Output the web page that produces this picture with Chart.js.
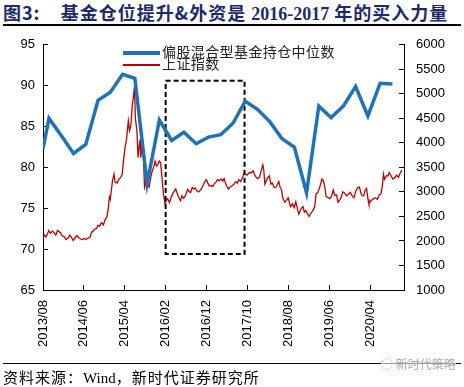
<!DOCTYPE html>
<html>
<head>
<meta charset="UTF-8">
<title>基金仓位提升&外资是2016-2017年的买入力量</title>
<script src="https://cdn.jsdelivr.net/npm/chart.js@4/dist/chart.umd.min.js"></script>
<style>
body { margin: 0; width: 464px; height: 387px; background: #fff; position: relative; overflow: hidden; }
.title { position: absolute; left: 3px; top: 0; font-family: "Noto Sans CJK SC"; font-weight: bold; font-size: 18px; letter-spacing: 1px; color: #1c2a6b; white-space: nowrap; line-height: 24px; }
.title .num { font-family: "Liberation Serif"; letter-spacing: 0; }
.rule1 { position: absolute; left: 3px; width: 458px; top: 24px; height: 2px; background: #000; }
.rule2 { position: absolute; left: 3px; width: 458px; top: 363px; height: 1px; background: #000; }
.source { position: absolute; left: 3px; top: 367px; font-family: "Noto Sans CJK SC"; font-size: 15px; letter-spacing: 1px; line-height: 20px; color: #000; white-space: nowrap; }
.source .en { font-family: "Liberation Serif"; letter-spacing: 0; }
.mark { position: absolute; left: 381px; top: 355px; font-family: "Noto Sans CJK SC"; font-size: 12px; color: #aaa; background: rgba(255,255,255,0.6); }
#legend { position: absolute; left: 123px; top: 45px; font-family: "Noto Sans CJK SC"; font-size: 14px; letter-spacing: 0.4px; color: #222; }
#legend div { height: 12px; line-height: 12px; white-space: nowrap; }
#legend span.sw { display: inline-block; width: 37px; vertical-align: middle; margin-right: 2px; }
#wrap { position: absolute; left: 0; top: 20px; }
</style>
</head>
<body>
<div class="title">图3:&nbsp;&nbsp;&nbsp;&nbsp;基金仓位提升&amp;外资是 <span class="num">2016-2017</span> 年的买入力量</div>
<div class="rule1"></div>
<div id="wrap"><canvas id="myChart" width="464" height="340"></canvas></div>
<div id="legend">
  <div><span class="sw" style="height:4px;background:#1f71b8"></span>偏股混合型基金持仓中位数</div>
  <div><span class="sw" style="height:2px;background:#c00000"></span>上证指数</div>
</div>
<div class="rule2"></div>
<div class="mark">◌ 新时代策略</div>
<div class="source">资料来源：<span class="en">Wind</span>，新时代证券研究所</div>
<script>
// 偏股混合型基金持仓中位数 (left axis, %)
var fundDates = ["2013-08-01","2013-09-15","2013-12-15","2014-03-15","2014-06-15","2014-09-15","2014-12-15",
  "2015-03-15","2015-06-15","2015-09-15","2015-12-15","2016-03-15","2016-06-15","2016-09-15","2016-12-15",
  "2017-03-15","2017-06-15","2017-09-15","2017-12-15","2018-03-15","2018-06-15","2018-09-15","2018-12-15",
  "2019-03-15","2019-06-15","2019-09-15","2019-12-15","2020-03-15","2020-06-15","2020-09-15"];
var fundValues = [82.3,86.0,83.9,81.7,82.8,88.2,89.2,
  91.4,90.9,78.0,85.8,83.3,84.3,82.9,83.7,
  84.0,85.4,88.1,87.1,85.6,83.5,82.5,76.9,
  87.5,86.1,87.5,89.9,86.3,90.3,90.2];

// 上证指数 (right axis)
var sseDates = ["2013-08-01","2013-08-12","2013-08-23","2013-09-05","2013-09-13","2013-09-25","2013-10-10","2013-10-22",
  "2013-11-05","2013-11-18","2013-11-28","2013-12-10","2013-12-20","2014-01-08","2014-01-20","2014-02-05","2014-02-18",
  "2014-03-03","2014-03-12","2014-03-25","2014-04-10","2014-04-22","2014-05-08","2014-05-20","2014-06-05","2014-06-18",
  "2014-07-01","2014-07-15","2014-07-28","2014-08-08","2014-08-20","2014-09-03","2014-09-15","2014-09-25","2014-10-10",
  "2014-10-25","2014-11-05","2014-11-20","2014-12-01","2014-12-08","2014-12-15","2014-12-31","2015-01-12","2015-01-20",
  "2015-02-05","2015-02-16","2015-03-02","2015-03-12","2015-03-24","2015-04-03","2015-04-15","2015-04-27","2015-05-06",
  "2015-05-15","2015-05-27","2015-06-03","2015-06-12","2015-06-19","2015-06-30","2015-07-08","2015-07-17","2015-07-24",
  "2015-07-28","2015-08-07","2015-08-18","2015-08-26","2015-09-08","2015-09-17","2015-09-30","2015-10-12","2015-10-23",
  "2015-11-05","2015-11-13","2015-11-24","2015-12-04","2015-12-14","2015-12-24","2016-01-07","2016-01-15","2016-01-27",
  "2016-02-05","2016-02-16","2016-02-29","2016-03-10","2016-03-22","2016-04-05","2016-04-15","2016-04-28","2016-05-10",
  "2016-05-20","2016-06-01","2016-06-13","2016-06-27","2016-07-12","2016-07-26","2016-08-05","2016-08-16","2016-08-26",
  "2016-09-08","2016-09-19","2016-09-30","2016-10-17","2016-10-31","2016-11-10","2016-11-22","2016-11-29","2016-12-08",
  "2016-12-20","2017-01-03","2017-01-16","2017-01-26","2017-02-10","2017-02-22","2017-03-06","2017-03-20","2017-03-30",
  "2017-04-10","2017-04-21","2017-05-10","2017-05-19","2017-06-01","2017-06-12","2017-06-23","2017-07-06","2017-07-17",
  "2017-07-28","2017-08-11","2017-08-24","2017-09-06","2017-09-18","2017-09-28","2017-10-16","2017-10-30","2017-11-13",
  "2017-11-24","2017-12-06","2017-12-18","2017-12-29","2018-01-12","2018-01-24","2018-02-01","2018-02-09","2018-02-26",
  "2018-03-12","2018-03-23","2018-04-03","2018-04-17","2018-05-02","2018-05-21","2018-05-31","2018-06-11","2018-06-20",
  "2018-07-05","2018-07-16","2018-07-30","2018-08-09","2018-08-17","2018-08-31","2018-09-14","2018-09-26","2018-10-11",
  "2018-10-18","2018-11-05","2018-11-19","2018-11-29","2018-12-10","2018-12-25","2019-01-03","2019-01-16","2019-02-01",
  "2019-02-15","2019-02-25","2019-03-08","2019-03-22","2019-04-08","2019-04-19","2019-04-30","2019-05-09","2019-05-23",
  "2019-06-06","2019-06-19","2019-07-01","2019-07-12","2019-07-25","2019-08-06","2019-08-16","2019-08-30","2019-09-11",
  "2019-09-20","2019-10-08","2019-10-21","2019-11-05","2019-11-20","2019-12-03","2019-12-17","2019-12-31","2020-01-13",
  "2020-01-23","2020-02-03","2020-02-14","2020-02-24","2020-03-05","2020-03-16","2020-03-23","2020-04-08","2020-04-21",
  "2020-05-07","2020-05-25","2020-06-08","2020-06-22","2020-07-02","2020-07-09","2020-07-17","2020-07-31","2020-08-12",
  "2020-08-21","2020-09-07","2020-09-18","2020-09-28","2020-10-16","2020-10-30","2020-11-11","2020-11-25"];
var sseValues = [2050,2120,2080,2150,2215,2160,2200,2170,
  2120,2215,2190,2170,2110,2080,2030,2060,2120,
  2060,2010,2060,2110,2070,2040,2030,2050,2030,
  2060,2070,2180,2200,2240,2250,2320,2300,2370,
  2330,2420,2490,2680,2900,2850,3230,3360,3200,
  3180,3250,3300,3360,3700,3900,4100,4450,4250,
  4340,4800,4900,5150,4500,4250,3700,3950,4070,
  3700,3900,3750,3090,3200,3150,3100,3300,3430,
  3520,3630,3530,3560,3630,3600,3200,2950,2756,
  2830,2860,2780,2880,2960,3020,3060,2950,2870,
  2822,2920,2870,2930,3050,3000,2990,3090,3060,
  3080,3025,3000,3040,3100,3160,3227,3250,3200,
  3125,3130,3110,3160,3200,3250,3230,3262,3220,
  3270,3170,3060,3090,3110,3130,3160,3210,3180,
  3250,3210,3280,3380,3360,3340,3395,3390,3430,
  3350,3295,3270,3300,3430,3550,3450,3160,3270,
  3330,3160,3180,3090,3100,3213,3095,3050,2880,
  2790,2822,2880,2780,2700,2756,2680,2800,2620,
  2550,2660,2700,2586,2620,2540,2500,2560,2620,
  2700,2960,2990,3100,3262,3230,3080,2900,2890,
  2860,2920,3040,2930,2940,2788,2820,2890,3000,
  2990,2920,2950,2990,2920,2880,3020,3090,3100,
  2980,2923,2920,3025,3070,2850,2756,2820,2850,
  2880,2850,2940,2970,3140,3363,3260,3330,3330,
  3396,3320,3262,3280,3340,3300,3380,3443];

// highlighted period box (2016/02 - 2017/09, left axis range)
var boxDates = ["2016-02-01","2017-09-10"];
var boxRange = [69.4, 90.6];

// x axis: months counted from 2013/08
function monthIndex(d)
{
    var p = d.split("-");
    return (parseInt(p[0]) - 2013) * 12 + (parseInt(p[1]) - 8) + (parseInt(p[2]) - 1) / 30;
}
function toPoints(dates, values)
{
    return dates.map(function(d, i) { return {x: monthIndex(d), y: values[i]}; });
}
var bx0 = monthIndex(boxDates[0]), bx1 = monthIndex(boxDates[1]);
var boxPoints = [
    {x: bx0, y: boxRange[1]}, {x: bx1, y: boxRange[1]},
    {x: bx1, y: boxRange[0]}, {x: bx0, y: boxRange[0]}, {x: bx0, y: boxRange[1]}
];

var tickFont = {family: "Liberation Sans", size: 13};
var axisGrid = {drawOnChartArea: false, color: "#000", tickLength: -5, lineWidth: 1};

new Chart(document.getElementById("myChart"), {
    type: "line",
    data: {
        datasets: [
            {label: "偏股混合型基金持仓中位数", data: toPoints(fundDates, fundValues), yAxisID: "y",
             borderColor: "#1f71b8", borderWidth: 3.5, pointRadius: 0, tension: 0, fill: false},
            {label: "box", data: boxPoints, yAxisID: "y", borderColor: "#000", borderWidth: 2,
             borderDash: [5, 3], pointRadius: 0, tension: 0, fill: false},
            {label: "上证指数", data: toPoints(sseDates, sseValues), yAxisID: "y1",
             borderColor: "#c00000", borderWidth: 1.3, pointRadius: 0, tension: 0, fill: false}
        ]
    },
    options: {
        responsive: false,
        animation: false,
        devicePixelRatio: 1,
        layout: {padding: {top: 13, left: 0, right: 0, bottom: 0}},
        plugins: {legend: {display: false}, tooltip: {enabled: false}},
        scales: {
            x: {
                type: "linear", min: 0, max: 88.3,
                grid: axisGrid,
                border: {display: true, color: "#000", width: 1},
                ticks: {
                    stepSize: 10, includeBounds: false, autoSkip: false,
                    maxRotation: 90, minRotation: 90, padding: 15,
                    color: "#000", font: tickFont,
                    callback: function(v) {
                        var y = 2013 + Math.floor((7 + v) / 12);
                        var m = (7 + v) % 12 + 1;
                        return y + "/" + (m < 10 ? "0" + m : m);
                    }
                },
                afterFit: function(s) { s.height = 70; }
            },
            y: {
                position: "left", min: 65, max: 95,
                grid: axisGrid,
                border: {display: true, color: "#000", width: 1},
                ticks: {stepSize: 5, padding: 13, color: "#000", font: tickFont},
                afterFit: function(s) { s.width = 43; }
            },
            y1: {
                position: "right", min: 1000, max: 6000,
                grid: axisGrid,
                border: {display: true, color: "#000", width: 1},
                ticks: {stepSize: 500, padding: 17, color: "#000", font: tickFont,
                        callback: function(v) { return String(v); }},
                afterFit: function(s) { s.width = 60; }
            }
        }
    }
});
</script>
</body>
</html>
